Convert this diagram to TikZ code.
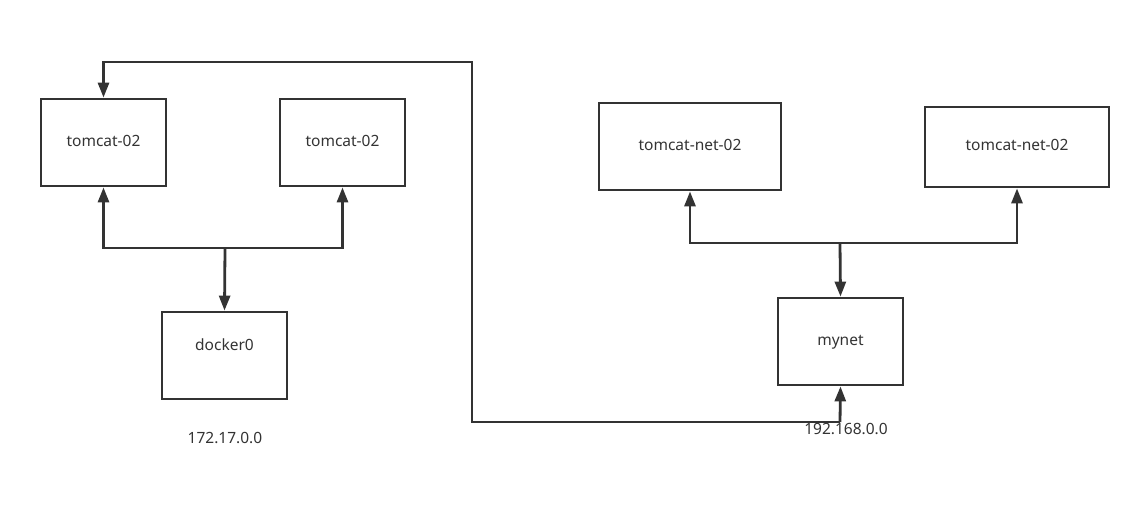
\documentclass[tikz,border=0pt]{standalone}
\usepackage{fontspec}
\setmainfont{Noto Sans}
\usetikzlibrary{arrows.meta}
\definecolor{ink}{HTML}{333333}
\begin{document}
\begin{tikzpicture}[x=1pt,y=-1pt,
  lbl/.style={font=\fontsize{15.5}{18}\selectfont,text=ink,inner sep=0pt,text height=11pt,text depth=3.5pt},
  box/.style={draw=ink,line width=2.8pt,minimum width=#1,inner sep=0pt,lbl},
  box/.default=125pt,
  wire/.style={draw=ink,line width=2.8pt},
  arr/.style={wire,-{Triangle[length=15pt,width=11pt]}}]
\useasboundingbox (0,0) rectangle (1130,525);
\node[box,minimum height=87pt] (t1) at (103.5,142.5) {tomcat-02};
\node[box,minimum height=87pt] (t2) at (342.5,142.5) {tomcat-02};
\node[box,minimum height=87pt,label={[lbl,yshift=8.5pt]center:docker0}] (d0) at (224.5,355.5) {};
\node[lbl] (ip1) at (225,440) {172.17.0.0};
\node[box=182pt,minimum height=87pt] (n1) at (690,146.5) {tomcat-net-02};
\node[box=184pt,minimum height=80pt] (n2) at (1017,147) {tomcat-net-02};
\node[box,minimum height=87pt] (my) at (840.5,341.5) {mynet};
\node[lbl] (ip2) at (846,431) {192.168.0.0};
% left group
\coordinate (lj) at (225,248);
\draw[arr] (lj) -| (t1.south);
\draw[arr] (lj) -| (t2.south);
\draw[arr] (lj) -- (d0.north);
% right group
\coordinate (rj) at (840,243);
\draw[arr] (rj) -| (n1.south);
\draw[arr] (rj) -| (n2.south);
\draw[arr] (rj) -- (my.north);
% long link
\coordinate (b1) at (840,422);
\coordinate (b2) at (472,422);
\coordinate (b3) at (472,62);
\coordinate (b4) at (103.5,62);
\draw[arr] (b1) -- (my.south);
\draw[arr] (b1) -- (b2) -- (b3) -- (b4) -- (t1.north);
\end{tikzpicture}
\end{document}
